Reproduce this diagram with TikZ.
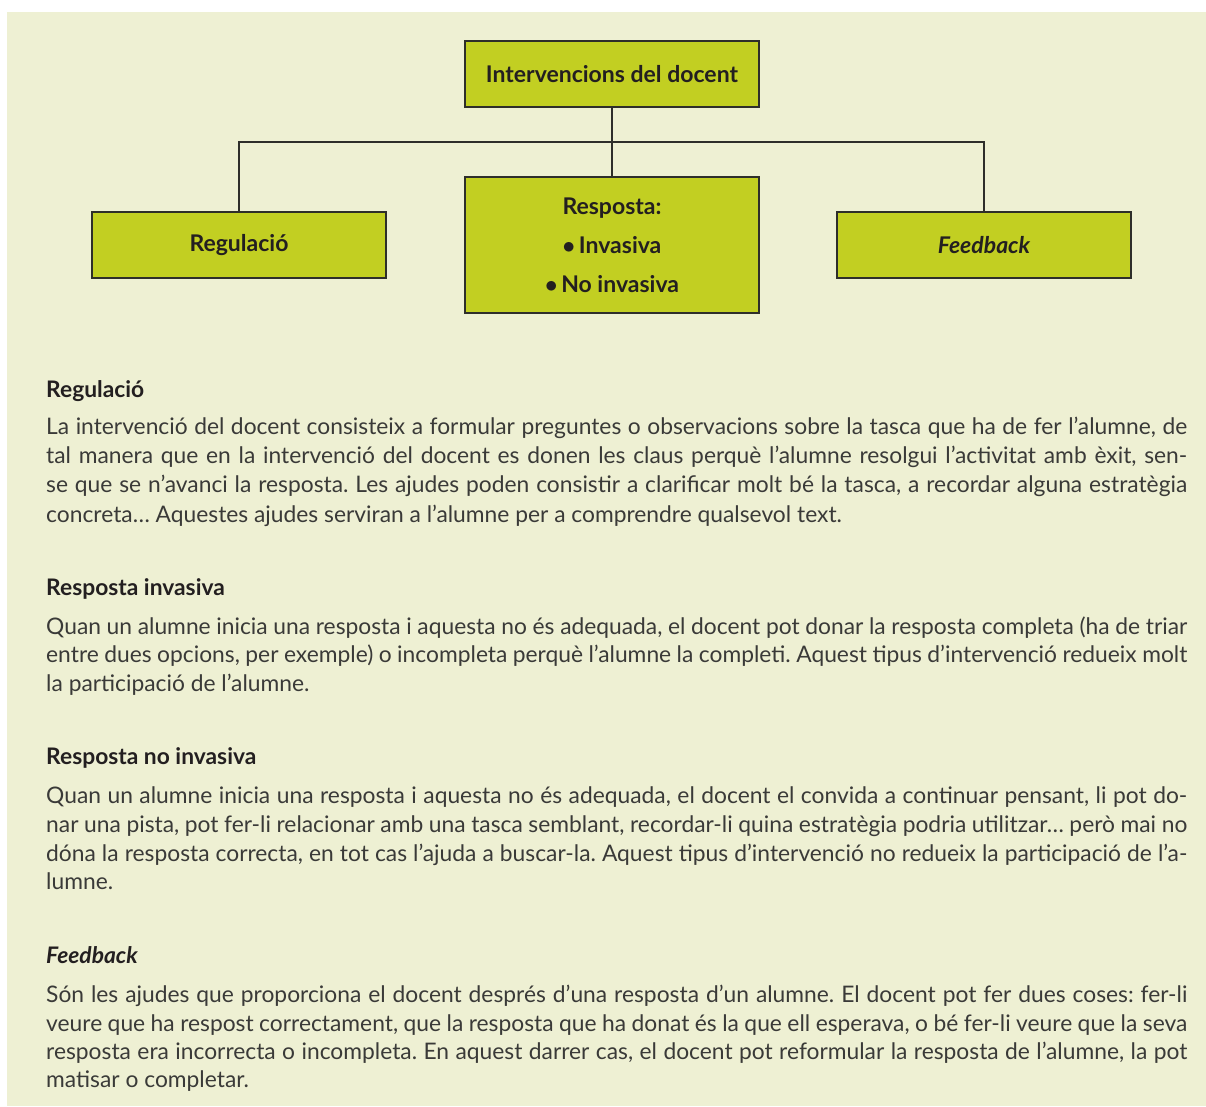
\documentclass[tikz,border=0pt]{standalone}
\usepackage{fontspec}
\setmainfont{Lato}
\frenchspacing
\definecolor{bgcol}{HTML}{EEF0D3}
\definecolor{limecol}{HTML}{C2CF22}
\definecolor{linecol}{HTML}{2E2E2A}
\definecolor{headcol}{HTML}{231F20}
\definecolor{bodycol}{HTML}{3A3A38}
\tikzset{
  box/.style={draw=linecol, line width=1.3pt, fill=limecol, minimum width=294pt, minimum height=66pt, inner sep=0pt, font=\fontsize{23}{39}\selectfont\bfseries, text=headcol, align=center},
  conn/.style={draw=linecol, line width=1.3pt},
  head/.style={anchor=base west, inner sep=0pt, font=\fontsize{22.8}{26}\selectfont\bfseries, text=headcol},
  body/.style={anchor=base west, inner sep=0pt, font=\fontsize{22.8}{26}\selectfont, text=bodycol}
}
\newcommand{\jline}[1]{\makebox[1141pt][s]{#1}}
\begin{document}
\begin{tikzpicture}[x=1pt,y=-1pt]
\useasboundingbox (0,0) rectangle (1206,1106);
\fill[bgcol] (7,12) rectangle (1206,1106);
% boxes
\node[box] (top) at (612,74) {Intervencions del docent};
\node[box, minimum height=136pt] (mid) at (612,245) {Resposta:\\ $\bullet$\,Invasiva\\ $\bullet$\,No invasiva};
\node[box] (reg) at (239,245) {Regulació};
\node[box] (feed) at (984,245) {\itshape Feedback};
\coordinate (j) at (612,142);
\draw[conn] (top.south) -- (mid.north);
\draw[conn] (reg.north) |- (j) -| (feed.north);
% section 1
\node[head] (h1) at (46,397) {Regulació};
\node[body] (r1) at (46,434) {\jline{La intervenció del docent consisteix a formular preguntes o observacions sobre la tasca que ha de fer l’alumne, de}};
\node[body] (r2) at (46,463) {\jline{tal manera que en la intervenció del docent es donen les claus perquè l’alumne resolgui l’activitat amb èxit, sen-}};
\node[body] (r3) at (46,492) {\jline{se que se n’avanci la resposta. Les ajudes poden consistir a clarificar molt bé la tasca, a recordar alguna estratègia}};
\node[body] (r4) at (46,522) {concreta… Aquestes ajudes serviran a l’alumne per a comprendre qualsevol text.};
% section 2
\node[head] (h2) at (46,595) {Resposta invasiva};
\node[body] (i1) at (46,634) {\jline{Quan un alumne inicia una resposta i aquesta no és adequada, el docent pot donar la resposta completa (ha de triar}};
\node[body] (i2) at (46,662) {\jline{entre dues opcions, per exemple) o incompleta perquè l’alumne la completi. Aquest tipus d’intervenció redueix molt}};
\node[body] (i3) at (46,691) {la participació de l’alumne.};
% section 3
\node[head] (h3) at (46,764) {Resposta no invasiva};
\node[body] (n1) at (46,803) {\jline{Quan un alumne inicia una resposta i aquesta no és adequada, el docent el convida a continuar pensant, li pot do-}};
\node[body] (n2) at (46,832) {\jline{nar una pista, pot fer-li relacionar amb una tasca semblant, recordar-li quina estratègia podria utilitzar… però mai no}};
\node[body] (n3) at (46,861) {\jline{dóna la resposta correcta, en tot cas l’ajuda a buscar-la. Aquest tipus d’intervenció no redueix la participació de l’a-}};
\node[body] (n4) at (46,889) {lumne.};
% section 4
\node[head] (h4) at (46,963) {\itshape Feedback};
\node[body] (f1) at (46,1002) {\jline{Són les ajudes que proporciona el docent després d’una resposta d’un alumne. El docent pot fer dues coses: fer-li}};
\node[body] (f2) at (46,1031) {\jline{veure que ha respost correctament, que la resposta que ha donat és la que ell esperava, o bé fer-li veure que la seva}};
\node[body] (f3) at (46,1059) {\jline{resposta era incorrecta o incompleta. En aquest darrer cas, el docent pot reformular la resposta de l’alumne, la pot}};
\node[body] (f4) at (46,1087) {matisar o completar.};
\end{tikzpicture}
\end{document}
